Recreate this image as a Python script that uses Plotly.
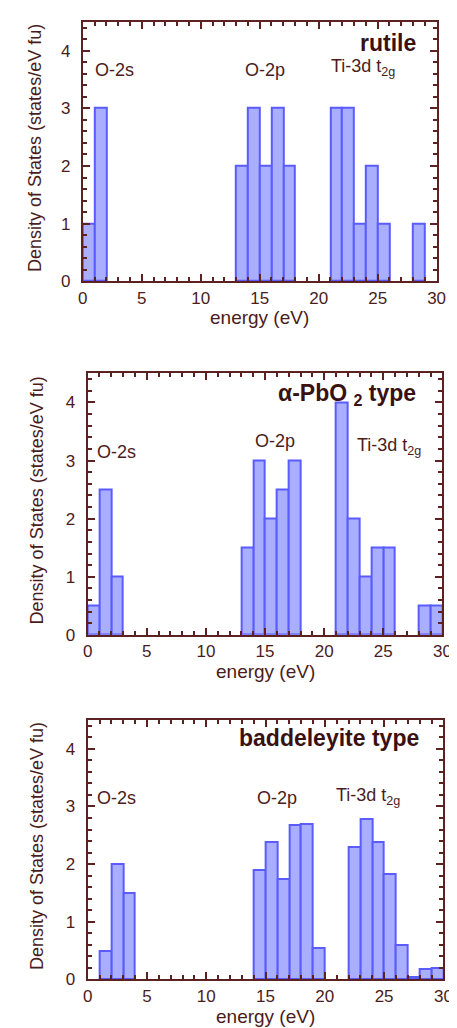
import plotly.graph_objects as go

# ---- data (bin centres in eV, DOS in states/eV fu) ----
rutile_energy = [0.5, 1.5, 13.5, 14.5, 15.5, 16.5, 17.5, 21.5, 22.5, 23.5, 24.5, 25.5, 28.5]
rutile_dos = [1, 3, 2, 3, 2, 3, 2, 3, 3, 1, 2, 1, 1]

pbo2_energy = [0.5, 1.5, 2.5, 13.5, 14.5, 15.5, 16.5, 17.5, 21.5, 22.5, 23.5, 24.5, 25.5, 28.5, 29.5]
pbo2_dos = [0.5, 2.5, 1, 1.5, 3, 2, 2.5, 3, 4, 2, 1, 1.5, 1.5, 0.5, 0.5]

badd_energy = [1.5, 2.5, 3.5, 14.5, 15.5, 16.5, 17.5, 18.5, 19.5, 22.5, 23.5, 24.5, 25.5, 26.5, 27.5, 28.5, 29.5]
badd_dos = [0.5, 2.0, 1.5, 1.9, 2.38, 1.75, 2.68, 2.7, 0.55, 2.3, 2.78, 2.38, 1.83, 0.6, 0.05, 0.18, 0.2]

panel_titles = ["rutile", "α-PbO\u00a0<sub>2</sub>\u00a0type", "baddeleyite type"]
band_labels = ["O-2s", "O-2p", "Ti-3d t<sub>2g</sub>"]
x_title = "energy (eV)"
y_title = "Density of States (states/eV fu)"

W, H = 457, 1028
FONT = "Liberation Sans, Arial, Helvetica, sans-serif"
TXT = "#4a1c1c"
AX = "#5c2222"
FILL = "rgba(170,174,255,1)"
EDGE = "#5a5cff"

# panel pixel boxes (left, right, top, bottom)
boxes = [(72, 437, 14, 276), (77, 443, 369, 633), (77, 444, 719, 981)]
ytitle_x = [22, 25, 25]

# annotation positions in data coords
band_pos = [
    [(0.9, 3.66), (13.6, 3.66), (20.9, 3.7)],
    [(0.65, 3.15), (14.0, 3.34), (22.6, 3.24)],
    [(0.65, 3.14), (14.1, 3.14), (20.8, 3.17)],
]
title_pos = [(28.4, 4.14), (27.9, 4.14), (28.1, 4.19)]

data = [(rutile_energy, rutile_dos), (pbo2_energy, pbo2_dos), (badd_energy, badd_dos)]

fig = go.Figure()
annotations = []
layout = {}
for i, ((xe, yd), (l, r, t, b)) in enumerate(zip(data, boxes)):
    sx = "" if i == 0 else str(i + 1)
    fig.add_trace(go.Bar(
        x=xe, y=yd, width=1.0,
        marker=dict(color=FILL, line=dict(color=EDGE, width=2)),
        xaxis="x" + sx, yaxis="y" + sx, showlegend=False,
    ))
    common = dict(
        showline=True, linecolor=AX, linewidth=2, mirror="allticks",
        ticks="inside", ticklen=7, tickwidth=1.5, tickcolor=AX,
        showgrid=False, zeroline=False,
        tickfont=dict(family=FONT, size=17, color=TXT),
        fixedrange=True,
    )
    layout["xaxis" + sx] = dict(
        common, domain=[l / W, r / W], range=[0, 30], dtick=5, tick0=0,
        minor=dict(ticks="inside", dtick=1, ticklen=4, tickwidth=1.5, tickcolor=AX),
        anchor="y" + sx, ticklabelstandoff=0,
    )
    layout["yaxis" + sx] = dict(
        common, domain=[1 - b / H, 1 - t / H], range=[0, 4.5], dtick=1, tick0=0,
        minor=dict(ticks="inside", dtick=0.2, ticklen=4, tickwidth=1.5, tickcolor=AX),
        anchor="x" + sx, ticklabelstandoff=7,
    )
    # axis titles
    annotations.append(dict(
        xref="paper", yref="paper", x=(l + r) / 2 / W, y=1 - (b + 37) / H,
        text=x_title, showarrow=False, xanchor="center", yanchor="middle",
        font=dict(family=FONT, size=19, color=TXT),
    ))
    annotations.append(dict(
        xref="paper", yref="paper", x=ytitle_x[i] / W, y=1 - ((t + b) / 2 - 4) / H,
        text=y_title, showarrow=False, textangle=-90, xanchor="center", yanchor="middle",
        font=dict(family=FONT, size=18, color=TXT),
    ))
    # panel title
    tx, ty = title_pos[i]
    annotations.append(dict(
        xref="x" + sx, yref="y" + sx, x=tx, y=ty, text="<b>" + panel_titles[i] + "</b>",
        showarrow=False, xanchor="right", yanchor="middle",
        font=dict(family=FONT, size=23, color="#3a1010"),
    ))
    for lab, (bx, by) in zip(band_labels, band_pos[i]):
        annotations.append(dict(
            xref="x" + sx, yref="y" + sx, x=bx, y=by, text=lab,
            showarrow=False, xanchor="left", yanchor="middle",
            font=dict(family=FONT, size=18, color=TXT),
        ))

fig.update_layout(
    width=W, height=H, margin=dict(l=0, r=0, t=0, b=0),
    paper_bgcolor="white", plot_bgcolor="white",
    bargap=0, annotations=annotations, **layout,
)
fig.write_html("out.html")
